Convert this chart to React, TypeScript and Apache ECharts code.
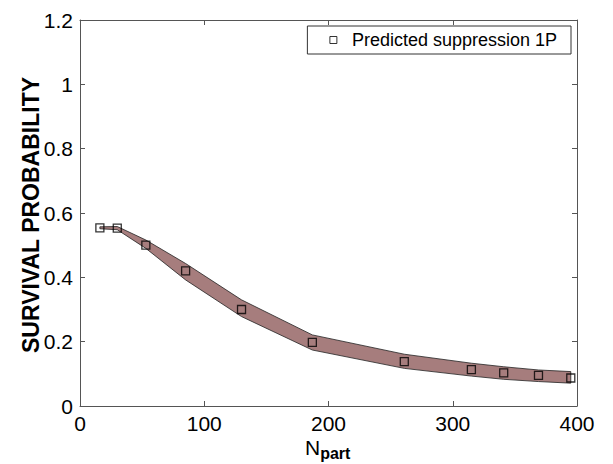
import React, { useEffect, useRef } from "react";
import * as echarts from "echarts";

const npart = [16, 30, 53, 85, 130, 187, 261, 315, 341, 369, 395];
const predicted = [0.554, 0.553, 0.5, 0.42, 0.3, 0.198, 0.138, 0.113, 0.103, 0.095, 0.087];
const bandUpper = [0.557, 0.558, 0.516, 0.443, 0.33, 0.221, 0.161, 0.133, 0.122, 0.112, 0.107];
const bandLower = [0.551, 0.548, 0.49, 0.392, 0.278, 0.174, 0.117, 0.093, 0.083, 0.076, 0.071];
const xTicks = [0, 100, 200, 300, 400];
const yTicks = [0, 0.2, 0.4, 0.6, 0.8, 1, 1.2];

const FONT = "Liberation Sans, Arial, sans-serif";

export default function App() {
  const ref = useRef<HTMLDivElement>(null);
  useEffect(() => {
    if (!ref.current) return;
    const chart = echarts.init(ref.current, null, { renderer: "svg" });
    const bandData = npart.map((x, i) => [x, bandLower[i], bandUpper[i]]);
    const axisLine = { show: true, onZero: false, lineStyle: { color: "#555", width: 1 } };
    const axisTick = { show: true, inside: true, length: 5, lineStyle: { color: "#555" } };
    chart.setOption({
      animation: false,
      backgroundColor: "#fff",
      grid: { left: 80, right: 36, top: 20, bottom: 58 },
      xAxis: [
        {
          type: "value",
          min: 0,
          max: 400,
          interval: 100,
          axisLine,
          axisTick,
          splitLine: { show: false },
          axisLabel: {
            fontFamily: FONT,
            fontSize: 21,
            color: "#000",
            margin: 7,
            formatter: (v: number) => (xTicks.includes(v) ? String(v) : ""),
          },
        },
        {
          type: "value",
          position: "top",
          min: 0,
          max: 400,
          interval: 100,
          axisLine,
          axisTick,
          splitLine: { show: false },
          axisLabel: { show: false },
        },
      ],
      yAxis: [
        {
          type: "value",
          min: 0,
          max: 1.2,
          interval: 0.2,
          axisLine,
          axisTick,
          splitLine: { show: false },
          axisLabel: {
            fontFamily: FONT,
            fontSize: 21,
            color: "#000",
            margin: 7,
            formatter: (v: number) => {
              const t = yTicks.find((y) => Math.abs(y - v) < 1e-6);
              return t === undefined ? "" : String(t);
            },
          },
        },
        {
          type: "value",
          position: "right",
          min: 0,
          max: 1.2,
          interval: 0.2,
          axisLine,
          axisTick,
          splitLine: { show: false },
          axisLabel: { show: false },
        },
      ],
      legend: {
        right: 42,
        top: 26,
        orient: "vertical",
        data: [{ name: "Predicted suppression 1P", icon: "rect" }],
        itemWidth: 7,
        itemHeight: 7,
        itemGap: 8,
        padding: [5, 14, 5, 22],
        borderColor: "#333",
        borderWidth: 1,
        borderRadius: 0,
        backgroundColor: "#fff",
        textStyle: { fontFamily: FONT, fontSize: 18, color: "#000", padding: [0, 0, 0, 10] },
        itemStyle: { color: "#fff", borderColor: "#000", borderWidth: 1 },
      },
      graphic: [
        {
          type: "text",
          x: 31,
          y: 215,
          rotation: Math.PI / 2,
          style: {
            text: "SURVIVAL PROBABILITY",
            fontFamily: FONT,
            fontSize: 23,
            fontWeight: "bold",
            fill: "#000",
            align: "center",
            verticalAlign: "middle",
          },
        },
        {
          type: "text",
          left: 305,
          top: 437,
          style: {
            text: "{n|N}{s|part}",
            rich: {
              n: { fontFamily: FONT, fontSize: 21, fontWeight: "normal", fill: "#000" },
              s: { fontFamily: FONT, fontSize: 16, fontWeight: "bold", fill: "#000", padding: [12, 0, 0, 0] },
            },
          },
        },
      ],
      series: [
        {
          type: "custom",
          name: "band",
          data: bandData,
          silent: true,
          renderItem: (params: any, api: any) => {
            if (params.dataIndex !== 0) return null;
            const upper = bandData.map((d) => api.coord([d[0], d[2]]));
            const lower = bandData.map((d) => api.coord([d[0], d[1]])).reverse();
            return {
              type: "polygon",
              shape: { points: upper.concat(lower) },
              style: { fill: "#a67d7d", stroke: "#222", lineWidth: 0.8 },
            };
          },
          encode: { x: 0, y: [1, 2] },
          z: 1,
        },
        {
          type: "scatter",
          name: "Predicted suppression 1P",
          data: npart.map((x, i) => [x, predicted[i]]),
          symbol: "rect",
          symbolSize: 8,
          itemStyle: { color: "rgba(0,0,0,0)", borderColor: "#000", borderWidth: 1.3 },
          z: 3,
        },
      ],
    });
    return () => chart.dispose();
  }, []);
  return <div ref={ref} style={{ width: 613, height: 464, position: "absolute", left: 0, top: 0 }} />;
}
